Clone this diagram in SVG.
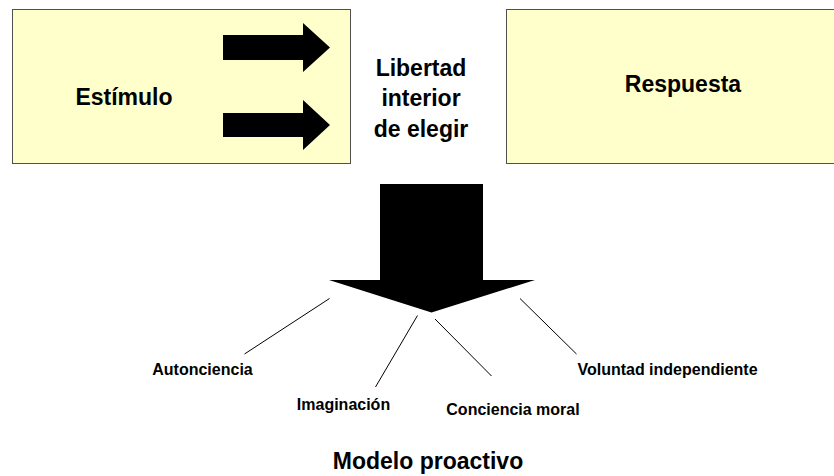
<svg xmlns="http://www.w3.org/2000/svg" width="834" height="476" viewBox="0 0 834 476">
<style>
.box{fill:#FFFFCC;stroke:#505050;stroke-width:1}
.big{font-family:"Liberation Sans",Arial,sans-serif;font-weight:bold;font-size:23px;fill:#000;text-anchor:middle}
.lbl{font-family:"Liberation Sans",Arial,sans-serif;font-weight:bold;font-size:16px;fill:#000;text-anchor:middle}
.arr{fill:#000}
.con{stroke:#000;stroke-width:1;fill:none}
</style>
<rect width="834" height="476" fill="#fff"/>
<g id="estimulo">
<rect class="box" x="12.5" y="9.5" width="338" height="154"/>
<text class="big" x="124" y="105">Estímulo</text>
</g>
<g id="respuesta">
<rect class="box" x="506.5" y="9.5" width="340" height="154"/>
<text class="big" x="683" y="92">Respuesta</text>
</g>
<g id="libertad">
<text class="big" x="421" y="76">Libertad</text>
<text class="big" x="421" y="106">interior</text>
<text class="big" x="421" y="137">de elegir</text>
</g>
<g id="arrows">
<polygon class="arr" points="223,35 303,35 303,23 330,47.5 303,72 303,60 223,60"/>
<polygon class="arr" points="223,113 303,113 303,100 330,125 303,150 303,137 223,137"/>
<polygon class="arr" points="380,184 483,184 483,280 535,280 431.5,312.5 329,280 380,280"/>
</g>
<g id="connectors">
<line class="con" x1="329.5" y1="298.5" x2="244.5" y2="354"/>
<line class="con" x1="417.5" y1="315.5" x2="375.5" y2="387"/>
<line class="con" x1="435" y1="319" x2="491.5" y2="376"/>
<line class="con" x1="520" y1="298.5" x2="576.5" y2="354"/>
</g>
<g id="autonciencia"><text class="lbl" x="202.5" y="375">Autonciencia</text></g>
<g id="imaginacion"><text class="lbl" x="343.5" y="410">Imaginación</text></g>
<g id="conciencia"><text class="lbl" x="513" y="415">Conciencia moral</text></g>
<g id="voluntad"><text class="lbl" x="667.5" y="375">Voluntad independiente</text></g>
<g id="modelo"><text class="big" x="428" y="469">Modelo proactivo</text></g>
</svg>
